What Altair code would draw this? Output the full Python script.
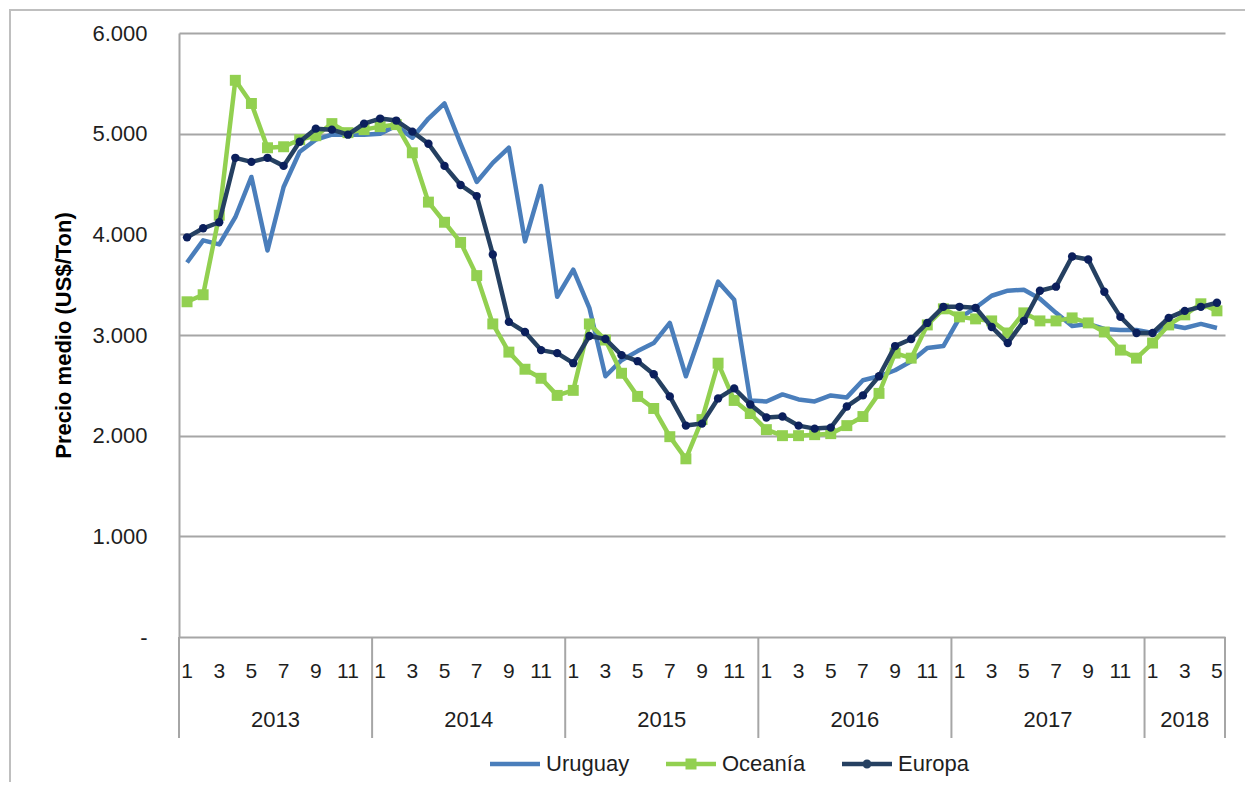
import altair as alt
import pandas as pd

# ---- data ----
years = [2013] * 12 + [2014] * 12 + [2015] * 12 + [2016] * 12 + [2017] * 12 + [2018] * 5
months = list(range(1, 13)) * 5 + [1, 2, 3, 4, 5]

uruguay = [
    3720, 3940, 3900, 4170, 4570, 3840, 4470, 4820, 4940, 4990, 4990, 4990,
    5000, 5080, 4960, 5150, 5300, 4900, 4520, 4710, 4860, 3930, 4480, 3380,
    3650, 3270, 2590, 2750, 2840, 2920, 3120, 2590, 3050, 3530, 3350, 2350,
    2340, 2410, 2360, 2340, 2400, 2380, 2550, 2590, 2650, 2740, 2870, 2890,
    3170, 3270, 3390, 3440, 3450, 3360, 3220, 3090, 3110, 3060, 3050, 3050,
    3020, 3100, 3070, 3110, 3070,
]
oceania = [
    3330, 3400, 4190, 5530, 5300, 4860, 4870, 4940, 4980, 5100, 5010, 5040,
    5070, 5090, 4810, 4320, 4120, 3920, 3590, 3110, 2830, 2660, 2570, 2400,
    2450, 3110, 2950, 2620, 2390, 2270, 1990, 1770, 2160, 2720, 2350, 2220,
    2060, 2000, 2000, 2010, 2020, 2100, 2190, 2420, 2820, 2770, 3100, 3260,
    3180, 3160, 3140, 3020, 3220, 3140, 3140, 3170, 3120, 3030, 2850, 2770,
    2920, 3100, 3200, 3310, 3240,
]
europa = [
    3970, 4060, 4120, 4760, 4720, 4760, 4680, 4920, 5050, 5040, 4990, 5100,
    5150, 5130, 5020, 4900, 4680, 4490, 4380, 3800, 3130, 3030, 2850, 2820,
    2720, 2990, 2960, 2800, 2740, 2610, 2390, 2100, 2120, 2370, 2470, 2310,
    2180, 2190, 2100, 2070, 2080, 2290, 2400, 2590, 2890, 2960, 3120, 3280,
    3280, 3270, 3080, 2920, 3140, 3440, 3480, 3780, 3750, 3430, 3180, 3020,
    3020, 3170, 3240, 3280, 3320,
]
series_names = ["Uruguay", "Oceanía", "Europa"]
y_ticks = [0, 1000, 2000, 3000, 4000, 5000, 6000]

# ---- styles ----
C_URU = "#4A7EBB"
C_OCE = "#92D050"
C_EUR = "#254061"
C_EUR_PT = "#0B1F5C"
GRID = "#A6A6A6"
FONT = "Liberation Sans"
TXT = "#1E1E1E"

n = len(uruguay)
idx = list(range(n))
df = pd.DataFrame({
    "idx": idx * 3,
    "serie": ["Uruguay"] * n + ["Oceanía"] * n + ["Europa"] * n,
    "valor": uruguay + oceania + europa,
})

month_df = pd.DataFrame({"idx": idx, "mes": months})
month_df = month_df[month_df["mes"] % 2 == 1].assign(label=lambda d: d["mes"].astype(str))

year_list = sorted(set(years))
year_first = [years.index(y) for y in year_list]
year_last = [len(years) - 1 - years[::-1].index(y) for y in year_list]
year_df = pd.DataFrame({
    "anio": [str(y) for y in year_list],
    "centro": [(a + b) / 2 for a, b in zip(year_first, year_last)],
})
sep_df = pd.DataFrame({"pos": [f - 0.5 for f in year_first] + [n - 0.5]})

W, H = 1046, 604
xscale = alt.Scale(domain=[-0.5, n - 0.5], nice=False, zero=False)
yscale = alt.Scale(domain=[0, 6000], nice=False)

base = alt.Chart(df)

yaxis = alt.Axis(
    values=y_ticks,
    labelExpr="datum.value == 0 ? '-' : replace(format(datum.value, ','), ',', '.')",
    grid=True, gridColor=GRID, gridWidth=2,
    domain=True, domainColor=GRID, domainWidth=2,
    ticks=False,
    labelFont=FONT, labelFontSize=22, labelColor=TXT, labelPadding=32,
    title="Precio medio (US$/Ton)", titleFont=FONT, titleFontSize=22,
    titleFontWeight="bold", titleColor="#000000", titlePadding=16,
)

# axis carrier (gridlines) — invisible line
axis_layer = base.mark_line(opacity=0).encode(
    x=alt.X("idx:Q", scale=xscale, axis=None),
    y=alt.Y("valor:Q", scale=yscale, axis=yaxis),
    detail="serie:N",
)


def line_for(name, color, width):
    return base.transform_filter(alt.datum.serie == name).mark_line(
        color=color, strokeWidth=width, strokeJoin="round"
    ).encode(x=alt.X("idx:Q", scale=xscale), y=alt.Y("valor:Q", scale=yscale))


uru_line = line_for("Uruguay", C_URU, 4.5)
oce_line = line_for("Oceanía", C_OCE, 4.5)
oce_pts = base.transform_filter(alt.datum.serie == "Oceanía").mark_square(
    color=C_OCE, size=120, opacity=1
).encode(x=alt.X("idx:Q", scale=xscale), y=alt.Y("valor:Q", scale=yscale))
eur_line = line_for("Europa", C_EUR, 4.5)
eur_pts = base.transform_filter(alt.datum.serie == "Europa").mark_circle(
    color=C_EUR_PT, size=70, opacity=1
).encode(x=alt.X("idx:Q", scale=xscale), y=alt.Y("valor:Q", scale=yscale))

# legend carrier (empty data, explicit domains)
bar = "M-1,-0.09H1V0.09H-1Z"
legend_props = dict(
    title=None, orient="none", legendX=311, legendY=706,
    direction="horizontal", symbolSize=2500, symbolStrokeWidth=0,
    symbolOpacity=1, labelFont=FONT, labelFontSize=22, labelColor=TXT,
    labelOffset=6, columnPadding=36, gridAlign="all", padding=0,
)
legend_layer = base.transform_filter("false").mark_point(filled=True).encode(
    x=alt.X("idx:Q", scale=xscale),
    y=alt.Y("valor:Q", scale=yscale),
    color=alt.Color("serie:N", scale=alt.Scale(domain=series_names, range=[C_URU, C_OCE, C_EUR]),
                    legend=alt.Legend(**legend_props)),
    shape=alt.Shape("serie:N", scale=alt.Scale(domain=series_names, range=[
        bar,
        bar + " M-0.22,-0.22H0.22V0.22H-0.22Z",
        bar + " M-0.18,0A0.18,0.18 0 1,1 0.18,0A0.18,0.18 0 1,1 -0.18,0Z",
    ]), legend=alt.Legend(**legend_props)),
)

months_layer = alt.Chart(month_df).mark_text(
    font=FONT, fontSize=21, color=TXT, baseline="middle", align="center"
).encode(x=alt.X("idx:Q", scale=xscale), y=alt.value(639), text="label:N")

years_layer = alt.Chart(year_df).mark_text(
    font=FONT, fontSize=22, color=TXT, baseline="middle", align="center"
).encode(x=alt.X("centro:Q", scale=xscale), y=alt.value(687), text="anio:N")

sep_layer = alt.Chart(sep_df).mark_rule(color=GRID, strokeWidth=2).encode(
    x=alt.X("pos:Q", scale=xscale), y=alt.value(H), y2=alt.value(705)
)

border = alt.Chart(pd.DataFrame({"k": [0]})).mark_rect(
    fill="transparent", stroke="#BFBFBF", strokeWidth=2
).encode(x=alt.value(-169), x2=alt.value(1200), y=alt.value(-23), y2=alt.value(900))

chart = alt.layer(
    border, axis_layer, sep_layer, months_layer, years_layer,
    uru_line, oce_line, oce_pts, eur_line, eur_pts, legend_layer,
).properties(
    width=W, height=H,
    autosize=alt.AutoSizeParams(type="none"),
    padding={"left": 171, "top": 25, "right": 20, "bottom": 145},
    background="white",
).configure_view(stroke=None)

chart.save("out.html", embed_options={"renderer": "svg", "actions": False})
